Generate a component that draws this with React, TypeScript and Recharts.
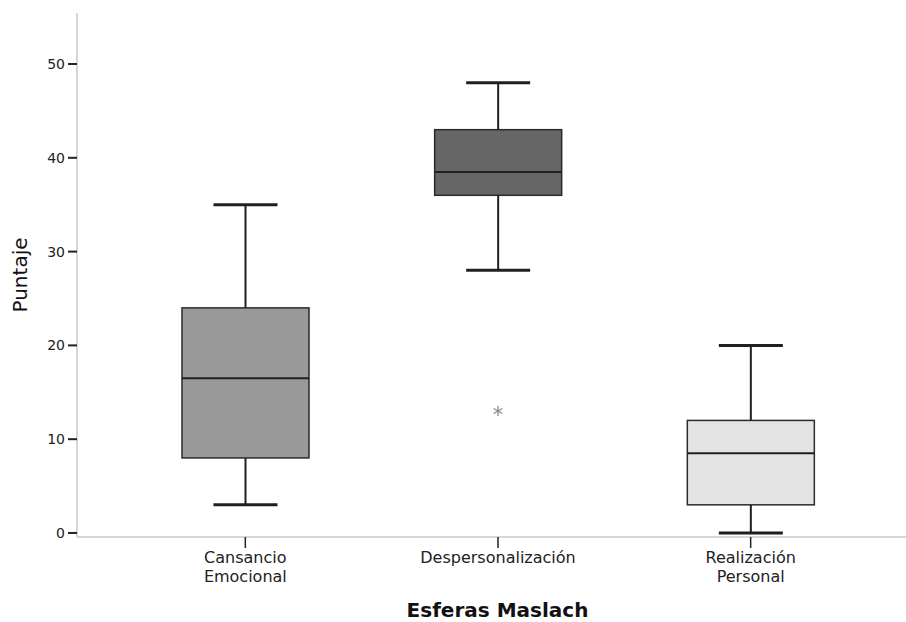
import { ComposedChart, Bar, Scatter, XAxis, YAxis } from "recharts";

const categorias = ["Cansancio Emocional", "Despersonalización", "Realización Personal"];
const minimos = [3, 28, 0];
const cuartil1 = [8, 36, 3];
const medianas = [16.5, 38.5, 8.5];
const cuartil3 = [24, 43, 12];
const maximos = [35, 48, 20];
const atipicos: (number | null)[] = [null, 13, null];
const yTicks = [0, 10, 20, 30, 40, 50];

const rellenos = ["#999999", "#666666", "#e3e3e3"];
const FONT = "DejaVu Sans";

const data = categorias.map((categoria, i) => ({
  categoria,
  min: minimos[i],
  q1: cuartil1[i],
  mediana: medianas[i],
  q3: cuartil3[i],
  max: maximos[i],
  atipico: atipicos[i],
}));

// the bar spans min..max, the rest is mapped inside it
const BoxShape = (props: any) => {
  const { x, y, width, height, payload, index } = props;
  const top = Math.min(y, y + height);
  const bottom = Math.max(y, y + height);
  const span = payload.max - payload.min || 1;
  const py = (v: number) => bottom - ((v - payload.min) / span) * (bottom - top);
  const cx = x + width / 2;
  const cap = 32;
  const stroke = "#1f1f1f";
  return (
    <g>
      <line x1={cx} x2={cx} y1={py(payload.max)} y2={py(payload.q3)} stroke={stroke} strokeWidth={2} />
      <line x1={cx} x2={cx} y1={py(payload.q1)} y2={py(payload.min)} stroke={stroke} strokeWidth={2} />
      <line x1={cx - cap} x2={cx + cap} y1={py(payload.max)} y2={py(payload.max)} stroke={stroke} strokeWidth={3} />
      <line x1={cx - cap} x2={cx + cap} y1={py(payload.min)} y2={py(payload.min)} stroke={stroke} strokeWidth={3} />
      <rect
        x={x}
        y={py(payload.q3)}
        width={width}
        height={py(payload.q1) - py(payload.q3)}
        fill={rellenos[index]}
        stroke="#2a2a2a"
        strokeWidth={1.5}
      />
      <line x1={x} x2={x + width} y1={py(payload.mediana)} y2={py(payload.mediana)} stroke={stroke} strokeWidth={2} />
    </g>
  );
};

const Asterisk = (props: any) => {
  const { cx, cy, payload } = props;
  if (payload == null || payload.atipico == null || !isFinite(cy)) return null;
  const r = 5;
  const arms = [90, 30, 150].map((a) => {
    const rad = (a * Math.PI) / 180;
    return { dx: r * Math.cos(rad), dy: r * Math.sin(rad) };
  });
  return (
    <g stroke="#8a8a8a" strokeWidth={1.3}>
      {arms.map((a, i) => (
        <line key={i} x1={cx - a.dx} y1={cy - a.dy} x2={cx + a.dx} y2={cy + a.dy} />
      ))}
    </g>
  );
};

const CategoryTick = (props: any) => {
  const { x, y, payload } = props;
  const lines = String(payload.value).split(" ");
  return (
    <text x={x} y={y} textAnchor="middle" fill="#222" fontSize={16} fontFamily={FONT}>
      {lines.map((l, i) => (
        <tspan key={i} x={x} dy={i === 0 ? 13 : 19}>
          {l}
        </tspan>
      ))}
    </text>
  );
};

export default function App() {
  return (
    <div style={{ position: "absolute", left: 0, top: 0, background: "#fff" }}>
      <ComposedChart
        width={906}
        height={622}
        data={data}
        margin={{ top: 13, right: 0, left: 0, bottom: 0 }}
        style={{ fontFamily: FONT }}
      >
        <XAxis
          dataKey="categoria"
          type="category"
          height={85}
          padding={{ left: 42, right: 29 }}
          axisLine={{ stroke: "#d6d6d6", strokeWidth: 2 }}
          tickLine={{ stroke: "#222", strokeWidth: 1.5 }}
          tickSize={11}
          tickMargin={2}
          tick={<CategoryTick />}
          interval={0}
          label={{
            value: "Esferas Maslach",
            position: "insideBottom",
            offset: 5,
            dx: 6,
            style: { fontSize: 20, fontWeight: "bold", fill: "#111", fontFamily: FONT },
          }}
        />
        <YAxis
          type="number"
          width={77}
          domain={[-0.43, 55.44]}
          ticks={yTicks}
          allowDataOverflow
          axisLine={{ stroke: "#d6d6d6", strokeWidth: 2 }}
          tickLine={{ stroke: "#222", strokeWidth: 2 }}
          tickSize={9}
          tickMargin={3}
          tick={{ fill: "#222", fontSize: 14, fontFamily: FONT }}
          label={{
            value: "Puntaje",
            angle: -90,
            position: "insideLeft",
            offset: 20,
            style: { textAnchor: "middle", fontSize: 20, fill: "#111", fontFamily: FONT },
          }}
        />
        <Bar
          dataKey={(d: any) => [d.min, d.max]}
          barSize={127}
          shape={<BoxShape />}
          isAnimationActive={false}
        />
        <Scatter dataKey="atipico" shape={<Asterisk />} isAnimationActive={false} />
      </ComposedChart>
    </div>
  );
}
